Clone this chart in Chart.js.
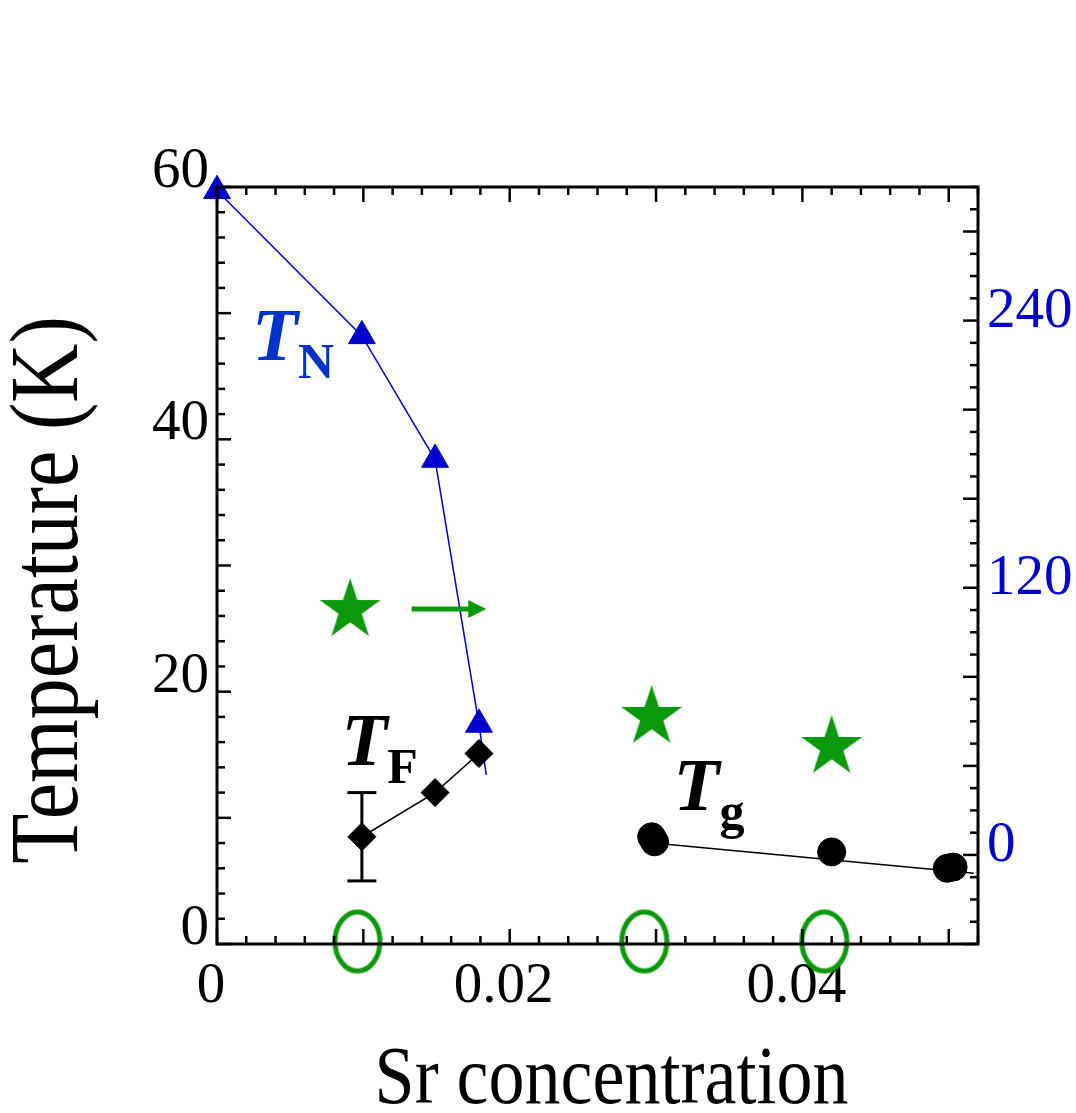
<!DOCTYPE html>
<html>
<head>
<meta charset="utf-8">
<title>Sr concentration phase diagram</title>
<script src="https://cdn.jsdelivr.net/npm/chart.js@4.4.0/dist/chart.umd.min.js"></script>
<style>
  html, body { margin: 0; padding: 0; background: #fff; }
  canvas { display: block; }
</style>
</head>
<body>
<canvas id="phaseChart" width="1076" height="1113"></canvas>
<script>
// T_N (left axis, K)
var tnX = [0, 0.0099, 0.0149, 0.0179, 0.0184];
var tnY = [59.7, 48.2, 38.4, 17.4, 13.4];
// T_F with one error bar on the first point
var tfX = [0.0099, 0.0149, 0.0179];
var tfY = [8.5, 12.0, 15.1];
var tfErrLow = [5.0];
var tfErrHigh = [12.0];
// T_g
var tgX = [0.0297, 0.0299, 0.0420, 0.0499, 0.0503];
var tgY = [8.5, 8.1, 7.3, 6.0, 6.1];
var tgLineX = [0.0298, 0.0517];
var tgLineY = [8.0, 5.6];
// stars read on the right axis
var starX = [0.0091, 0.0297, 0.0420];
var starY = [110, 62, 48.5];
// open ovals sitting on the x axis
var ovalX = [0.0096, 0.0292, 0.0415];
var ovalY = [0.2, 0.2, 0.2];
// arrow pointing to the right axis
var arrowX = [0.0133, 0.0184];
var arrowY = [110.5, 110.5];

var xTicks = [0, 0.02, 0.04];
var yTicks = [0, 20, 40, 60];
var y2Ticks = [0, 120, 240];

var SERIF = '"Liberation Serif", "Times New Roman", serif';
var GREEN = '#0a990a';
var BLUE = '#0000cc';

function pts(xs, ys) {
  return xs.map(function (x, i) { return { x: x, y: ys[i] }; });
}

function makeStar(R, color) {
  var c = document.createElement('canvas');
  var s = Math.ceil(R * 2 + 4);
  c.width = s; c.height = s;
  var g = c.getContext('2d');
  var r = R * 0.382;
  g.beginPath();
  for (var i = 0; i < 10; i++) {
    var a = -Math.PI / 2 + i * Math.PI / 5;
    var rr = i % 2 ? r : R;
    g.lineTo(s / 2 + rr * Math.cos(a), s / 2 + rr * Math.sin(a));
  }
  g.closePath();
  g.fillStyle = color;
  g.fill();
  return c;
}

function makeOval(rx, ry, lw, color) {
  var c = document.createElement('canvas');
  c.width = Math.ceil(2 * rx + lw + 4);
  c.height = Math.ceil(2 * ry + lw + 4);
  var g = c.getContext('2d');
  g.lineWidth = lw;
  g.strokeStyle = color;
  g.beginPath();
  g.ellipse(c.width / 2, c.height / 2, rx, ry, 0, 0, 2 * Math.PI);
  g.stroke();
  return c;
}

var starImg = makeStar(32, GREEN);
var ovalImg = makeOval(22.5, 29.5, 5, GREEN);

var tLabels = [
  { sub: 'N', x: 0.0024, y: 46.3, color: '#0033cc' },
  { sub: 'F', x: 0.0085, y: 14.2, color: '#000' },
  { sub: 'g', x: 0.0312, y: 10.6, color: '#000' }
];

function seg(ctx, x1, y1, x2, y2) {
  ctx.beginPath();
  ctx.moveTo(x1, y1);
  ctx.lineTo(x2, y2);
  ctx.stroke();
}

// frame, inward ticks, error bar, arrow, labels, axis titles
var decor = {
  id: 'decor',
  afterDatasetsDraw: function (chart) {
    var ctx = chart.ctx, a = chart.chartArea;
    var sx = chart.scales.x, sy = chart.scales.y, sy2 = chart.scales.y2;
    var i, p, len;
    ctx.save();
    ctx.strokeStyle = '#000';
    ctx.lineWidth = 2.5;
    for (i = 0; i <= 26; i++) {
      p = sx.getPixelForValue(i * 0.002);
      len = i % 5 === 0 ? 15 : 8;
      seg(ctx, p, a.bottom, p, a.bottom - len);
      seg(ctx, p, a.top, p, a.top + len);
    }
    for (i = 0; i <= 30; i++) {
      p = sy.getPixelForValue(i * 2);
      len = i % 5 === 0 ? 14 : 8;
      seg(ctx, a.left, p, a.left + len, p);
    }
    for (i = -4; i <= 30; i++) {
      p = sy2.getPixelForValue(i * 10);
      len = i % 4 === 0 ? 15 : 8;
      seg(ctx, a.right, p, a.right - len, p);
    }
    ctx.lineWidth = 3;
    ctx.strokeRect(a.left, a.top, a.right - a.left, a.bottom - a.top);

    // error bar on the first T_F point
    var ex = sx.getPixelForValue(tfX[0]);
    var eLo = sy.getPixelForValue(tfErrLow[0]);
    var eHi = sy.getPixelForValue(tfErrHigh[0]);
    ctx.lineWidth = 3;
    seg(ctx, ex, eLo, ex, eHi);
    seg(ctx, ex - 14.5, eLo, ex + 14.5, eLo);
    seg(ctx, ex - 14.5, eHi, ex + 14.5, eHi);

    // arrow
    var ax1 = sx.getPixelForValue(arrowX[0]);
    var ax2 = sx.getPixelForValue(arrowX[1]);
    var ay = sy2.getPixelForValue(arrowY[0]);
    ctx.strokeStyle = GREEN;
    ctx.fillStyle = GREEN;
    ctx.lineWidth = 5;
    seg(ctx, ax1, ay, ax2 - 15, ay);
    ctx.beginPath();
    ctx.moveTo(ax2, ay);
    ctx.lineTo(ax2 - 18, ay - 9);
    ctx.lineTo(ax2 - 18, ay + 9);
    ctx.closePath();
    ctx.fill();

    // T_N, T_F, T_g
    tLabels.forEach(function (l) {
      var lx = sx.getPixelForValue(l.x);
      var ly = sy.getPixelForValue(l.y);
      ctx.fillStyle = l.color;
      ctx.textAlign = 'left';
      ctx.textBaseline = 'alphabetic';
      ctx.font = 'italic bold 75px ' + SERIF;
      ctx.fillText('T', lx, ly);
      var w = ctx.measureText('T').width;
      ctx.font = 'bold 50px ' + SERIF;
      ctx.fillText(l.sub, lx + w, ly + 18);
    });

    // axis titles
    ctx.fillStyle = '#000';
    ctx.textAlign = 'center';
    ctx.textBaseline = 'alphabetic';
    ctx.font = '72px ' + SERIF;
    ctx.save();
    ctx.translate((a.left + a.right) / 2 + 14, 1103);
    ctx.scale(1, 1.16);
    ctx.fillText('Sr concentration', 0, 0);
    ctx.restore();

    ctx.font = '82px ' + SERIF;
    ctx.save();
    ctx.translate(77, 590);
    ctx.rotate(-Math.PI / 2);
    ctx.scale(1, 1.18);
    ctx.fillText('Temperature (K)', 0, 0);
    ctx.restore();

    ctx.restore();
  }
};

var tickFont = { family: SERIF, size: 57 };

new Chart(document.getElementById('phaseChart'), {
  type: 'scatter',
  data: {
    datasets: [
      {
        label: 'T_F', data: pts(tfX, tfY), yAxisID: 'y', showLine: true,
        borderColor: '#000', borderWidth: 1.5, pointStyle: 'rectRot', pointRadius: 14,
        pointBackgroundColor: '#000', pointBorderColor: '#000', pointBorderWidth: 1, clip: false
      },
      {
        label: 'T_g', data: pts(tgX, tgY), yAxisID: 'y', showLine: false,
        pointStyle: 'circle', pointRadius: 14,
        pointBackgroundColor: '#000', pointBorderColor: '#000', pointBorderWidth: 1, clip: false
      },
      {
        label: 'T_g fit', data: pts(tgLineX, tgLineY), yAxisID: 'y', showLine: true,
        borderColor: '#000', borderWidth: 1.5, pointRadius: 0, clip: false
      },
      {
        label: 'T_N', data: pts(tnX, tnY), yAxisID: 'y', showLine: true,
        borderColor: BLUE, borderWidth: 1.5, pointStyle: 'triangle', pointRadius: [15.5, 15.5, 15.5, 15.5, 0],
        pointBackgroundColor: BLUE, pointBorderColor: BLUE, pointBorderWidth: 1, clip: false
      },
      {
        label: 'stars', data: pts(starX, starY), yAxisID: 'y2', showLine: false,
        pointStyle: starImg, pointRadius: 10, clip: false
      },
      {
        label: 'ovals', data: pts(ovalX, ovalY), yAxisID: 'y', showLine: false,
        pointStyle: ovalImg, pointRadius: 10, clip: false
      }
    ]
  },
  options: {
    responsive: false,
    animation: false,
    events: [],
    layout: { padding: { top: 187, left: 0, right: 0, bottom: 0 }, autoPadding: false },
    plugins: { legend: { display: false }, tooltip: { enabled: false } },
    scales: {
      x: {
        type: 'linear', position: 'bottom', min: 0, max: 0.052,
        grid: { display: false, drawTicks: false }, border: { display: false },
        afterFit: function (s) { s.height = 169; },
        afterBuildTicks: function (s) { s.ticks = xTicks.map(function (v) { return { value: v }; }); },
        ticks: {
          padding: 9, labelOffset: -6, color: '#000', font: tickFont,
          maxRotation: 0, autoSkip: false, callback: function (v) { return String(v); }
        }
      },
      y: {
        type: 'linear', position: 'left', min: 0, max: 60,
        grid: { display: false, drawTicks: false }, border: { display: false },
        afterFit: function (s) { s.width = 217; },
        afterBuildTicks: function (s) { s.ticks = yTicks.map(function (v) { return { value: v }; }); },
        ticks: {
          padding: 8, labelOffset: -15, color: '#000', font: tickFont,
          autoSkip: false, callback: function (v) { return String(v); }
        }
      },
      y2: {
        type: 'linear', position: 'right', min: -40, max: 300,
        grid: { display: false, drawTicks: false }, border: { display: false },
        afterFit: function (s) { s.width = 98; },
        afterBuildTicks: function (s) { s.ticks = y2Ticks.map(function (v) { return { value: v }; }); },
        ticks: {
          padding: 9, labelOffset: -9, color: BLUE, font: tickFont,
          autoSkip: false, callback: function (v) { return String(v); }
        }
      }
    }
  },
  plugins: [decor]
});
</script>
</body>
</html>
